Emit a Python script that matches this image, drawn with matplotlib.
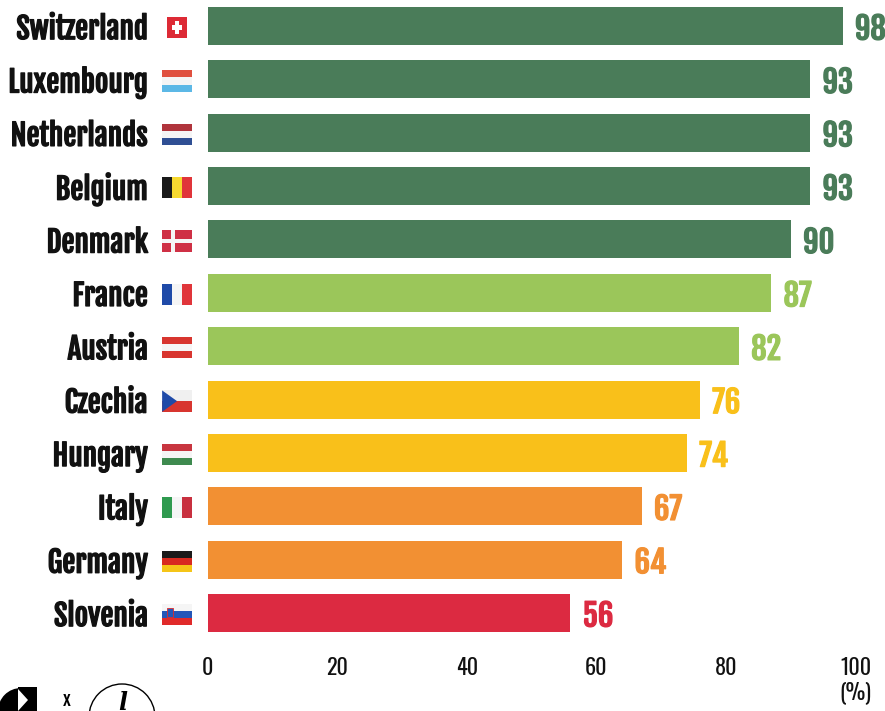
import matplotlib
matplotlib.use('Agg')
import matplotlib.pyplot as plt
import matplotlib.patheffects as pe
from matplotlib.patches import Rectangle, Polygon, Circle, Wedge

countries = ['Switzerland', 'Luxembourg', 'Netherlands', 'Belgium', 'Denmark', 'France',
             'Austria', 'Czechia', 'Hungary', 'Italy', 'Germany', 'Slovenia']
values = [98, 93, 93, 93, 90, 87, 82, 76, 74, 67, 64, 56]
colors = ['#4a7c59'] * 5 + ['#9bc65a'] * 2 + ['#f9c01a'] * 2 + ['#f29033'] * 2 + ['#dc2a41']
xticks = [0, 20, 40, 60, 80, 100]

# stripes of each flag, top to bottom / left to right
h_flags = {'Luxembourg': ['#e0503f', '#f5f5f5', '#5cb8e6'],
           'Netherlands': ['#b0343c', '#f5f5f5', '#2f4f94'],
           'Austria': ['#d8352f', '#f5f5f5', '#d8352f'],
           'Czechia': ['#f0f0f0', '#d8352f'],
           'Hungary': ['#c8353f', '#f5f5f5', '#3e8a4f'],
           'Germany': ['#1a1a1a', '#d82a20', '#f5c518'],
           'Slovenia': ['#f5f5f5', '#2456b8', '#e02a2a']}
v_flags = {'Belgium': ['#1a1a1a', '#f7d930', '#e0353a'],
           'France': ['#1f4aa8', '#f5f5f5', '#e0353a'],
           'Italy': ['#2f9a4f', '#f5f5f5', '#c8303f']}

font = ['Fjalla One', 'Oswald', 'Liberation Sans']
font2 = ['Oswald', 'Liberation Sans']


def bold(c, w=0.9):
    return [pe.withStroke(linewidth=w, foreground=c)]


fig = plt.figure(figsize=(8.85, 7.11), dpi=100)
ax = fig.add_axes([207.5 / 885, 1 - 640 / 711, 648 / 885, 640 / 711])
ax.set_xlim(0, 100)
ax.set_ylim(11.507, -0.487)

ax.barh(range(len(values)), values, height=0.712, color=colors)

for i, (name, v, c) in enumerate(zip(countries, values, colors)):
    ax.text(v + 1.9, i + 0.07, str(v), color=c, fontsize=22, family=font, ha='left', va='center',
            path_effects=bold(c))
    ax.text(-9.2, i + 0.06, name, color='#111111', fontsize=21, family=font, ha='right', va='center',
            path_effects=bold('#111111'))

fx0, fx1 = -7.0, -2.4
fh = 0.2
for i, name in enumerate(countries):
    y = i + 0.03
    if name in h_flags:
        st = h_flags[name]
        for k, c in enumerate(st):
            ax.add_patch(Rectangle((fx0, y - fh + k * 2 * fh / len(st)), fx1 - fx0, 2 * fh / len(st),
                                   color=c, clip_on=False, lw=0))
    elif name in v_flags:
        st = v_flags[name]
        for k, c in enumerate(st):
            ax.add_patch(Rectangle((fx0 + k * (fx1 - fx0) / 3, y - fh), (fx1 - fx0) / 3, 2 * fh,
                                   color=c, clip_on=False, lw=0))
    elif name == 'Denmark':
        ax.add_patch(Rectangle((fx0, y - fh), fx1 - fx0, 2 * fh, color='#cf3045', clip_on=False, lw=0))
        ax.add_patch(Rectangle((fx0 + 1.4, y - fh), 0.6, 2 * fh, color='#f5f5f5', clip_on=False, lw=0))
        ax.add_patch(Rectangle((fx0, y - 0.04), fx1 - fx0, 0.08, color='#f5f5f5', clip_on=False, lw=0))
    elif name == 'Switzerland':
        ax.add_patch(Rectangle((-6.3, y - 0.19), 3.1, 0.38, color='#dd2a35', clip_on=False, lw=0))
        ax.add_patch(Rectangle((-5.05, y - 0.12), 0.6, 0.24, color='white', clip_on=False, lw=0))
        ax.add_patch(Rectangle((-5.5, y - 0.04), 1.5, 0.08, color='white', clip_on=False, lw=0))
    if name == 'Czechia':
        ax.add_patch(Polygon([(fx0, y - fh), (fx0 + 2.3, y), (fx0, y + fh)], color='#1f4aa8',
                             clip_on=False, lw=0))
    if name == 'Slovenia':
        ax.add_patch(Rectangle((fx0 + 0.7, y - 0.12), 0.9, 0.17, color='#2456b8', ec='#e02a2a', lw=0.6,
                               clip_on=False))

ax.set_xticks(xticks)
ax.tick_params(axis='x', length=0, pad=12)
for lab in ax.get_xticklabels():
    lab.set_fontsize(16)
    lab.set_family(font2)
    lab.set_color('#111111')
ax.set_yticks([])
for s in ax.spines.values():
    s.set_visible(False)
ax.text(100, 12.5, '(%)', fontsize=16, family=font2, color='#111111', ha='center', va='center',
        clip_on=False)

# logos at the bottom left, in pixel coordinates of the figure
ov = fig.add_axes([0, 0, 1, 1], facecolor='none')
ov.set_xlim(0, 885)
ov.set_ylim(711, 0)
ov.axis('off')
ov.add_patch(Wedge((21, 711), 23, 180, 270, color='black', lw=0))
ov.add_patch(Rectangle((18, 687), 19, 24, color='black', lw=0))
ov.add_patch(Polygon([(18, 689), (28, 700), (18, 711)], color='white', lw=0))
ov.text(67, 710, 'x', fontsize=13, family=font, ha='center', va='bottom', fontweight='bold')
ov.add_patch(Circle((122, 717), 33, fc='white', ec='black', lw=1))
ov.text(123, 703, 'l', fontsize=17, style='italic', fontweight='bold', family='DejaVu Serif',
        ha='center', va='center')

fig.savefig('out.png', dpi=100)
